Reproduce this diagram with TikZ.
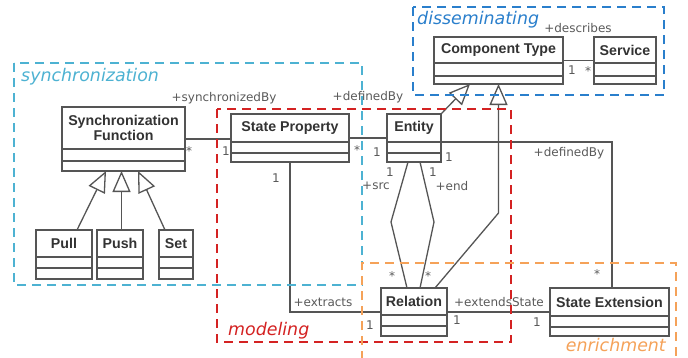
\documentclass[tikz,border=0pt]{standalone}
\usepackage{fontspec}
\setmainfont{Liberation Sans}
\newfontfamily\lblfont{DejaVu Sans}
\usetikzlibrary{arrows.meta}
\definecolor{linec}{HTML}{555555}
\definecolor{textc}{HTML}{333333}
\definecolor{lblc}{HTML}{5A5A5A}
\definecolor{syncc}{HTML}{4DB2D2}
\definecolor{modc}{HTML}{D42222}
\definecolor{disc}{HTML}{2A7FCC}
\definecolor{enrc}{HTML}{F5A259}
\newcommand\umlclass[8]{%
  \node[clsbox, minimum width={(#4-#2)*1pt}, minimum height={(#5-#3)*1pt}] (#1) at (#2,#3) {};
  \draw[clsline] (#2,#6) -- (#4,#6) (#2,#7) -- (#4,#7);
  \node[clstitle] (#1-t) at ({(#2+#4)/2},{(#3+#6)/2}) {#8};
}
\begin{document}
\begin{tikzpicture}[x=1pt,y=-1pt,
  clsbox/.style={draw=linec, line width=1.3pt, fill=white, inner sep=0pt, outer sep=0pt, anchor=north west, rectangle},
  clsline/.style={draw=linec, line width=1.3pt},
  clstitle/.style={font=\bfseries\fontsize{14.2}{15}\selectfont, text=textc, align=center, inner sep=0pt},
  assoc/.style={draw=linec, line width=1.3pt},
  gen/.style={draw=linec, line width=1.3pt, -{Triangle[open, length=21pt, width=18pt, fill=white]}},
  lbl/.style={font=\lblfont\fontsize{12}{14}\selectfont, text=lblc, inner sep=0pt},
  pkg/.style={line width=2pt, dash pattern=on 9pt off 6pt},
  pkglbl/.style={font=\lblfont\itshape\fontsize{17.4}{20}\selectfont, inner sep=0pt}]
\useasboundingbox (0,0) rectangle (688,357);
\fill[white] (0,0) rectangle (688,357);

% classes
\umlclass{sf}{62}{107}{185}{171}{149}{161}{Synchronization\\Function}
\umlclass{sp}{231}{114}{349}{162}{142}{153}{State Property}
\umlclass{en}{387}{114}{441}{162}{142}{153}{Entity}
\umlclass{ct}{434}{37}{563}{84}{63}{76}{Component Type}
\umlclass{sv}{594}{37}{656}{84}{63}{76}{Service}
\umlclass{pull}{36}{230}{92}{279}{257}{268}{Pull}
\umlclass{push}{97}{230}{143}{279}{257}{268}{Push}
\umlclass{set}{159}{230}{193}{279}{257}{268}{Set}
\umlclass{rel}{381}{288}{447}{336}{315}{326}{Relation}
\umlclass{se}{550}{288}{669}{336}{316}{327}{State Extension}

% associations
\draw[assoc] (sf.east) -- (sf.east -| sp.west);
\draw[assoc] (sp.east) -- (en.west);
\draw[assoc] ([yshift=-4pt]en.east) -| ([xshift=2.5pt]se.north);
\draw[assoc] (sp.south) |- (rel.west);
\draw[assoc] (rel.east) -- (se.west);
\draw[assoc] (ct.east) -- (sv.west);
\coordinate (dL) at (391,222);
\coordinate (dR) at (434,222);
\draw[assoc] ([xshift=-6pt]en.south) -- (dL) -- ([xshift=-7pt]rel.north);
\draw[assoc] ([xshift=6pt]en.south) -- (dR) -- ([xshift=6pt]rel.north);

% generalizations
\draw[gen] ([xshift=13pt]pull.north) -- ([xshift=-17.5pt]sf.south);
\draw[gen] ([xshift=1.5pt]push.north) -- ([xshift=-2pt]sf.south);
\draw[gen] ([xshift=-11pt]set.north) -- ([xshift=14.5pt]sf.south);
\draw[gen] (en.north east) -- ([xshift=-28.5pt]ct.south);
\coordinate (bR) at (498.5,213);
\draw[gen] ([xshift=-12pt]rel.north east) -- (bR) -- (ct.south);

% labels
\node[lbl] (l1) at (224,98) {+synchronizedBy};
\node[lbl, anchor=base] (l2) at (189,155) {*};
\node[lbl] (l3) at (226,151) {1};
\node[lbl] (l4) at (368,97) {+definedBy};
\node[lbl, anchor=base] (l5) at (357,154) {*};
\node[lbl] (l6) at (377,152) {1};
\node[lbl] (l7) at (449,157) {1};
\node[lbl] (l8) at (390,172) {1};
\node[lbl] (l9) at (376,186) {+src};
\node[lbl] (l10) at (433,172) {1};
\node[lbl] (l11) at (452,186) {+end};
\node[lbl] (l12) at (569,153) {+definedBy};
\node[lbl, anchor=base] (l13) at (597,278) {*};
\node[lbl, anchor=base] (l14) at (392,280) {*};
\node[lbl, anchor=base] (l15) at (428,280) {*};
\node[lbl] (l16) at (276,178) {1};
\node[lbl] (l17) at (323,302) {+extracts};
\node[lbl] (l18) at (370,325) {1};
\node[lbl] (l19) at (499,302) {+extendsState};
\node[lbl] (l20) at (457,320) {1};
\node[lbl] (l21) at (537,322) {1};
\node[lbl] (l22) at (578,28) {+describes};
\node[lbl] (l23) at (572,70) {1};
\node[lbl, anchor=base] (l24) at (588,75) {*};

% packages
\draw[pkg, draw=syncc] (14,63) rectangle (362,285);
\draw[pkg, draw=modc] (217,109) rectangle (511,342);
\draw[pkg, draw=disc] (413,7) rectangle (664,95);
\draw[pkg, draw=enrc] (362,360) -- (362,263) -- (676,263) -- (676,360);
\node[pkglbl, text=syncc, anchor=base west] (p1) at (21,81) {synchronization};
\node[pkglbl, text=disc, anchor=base west] (p2) at (417,24) {disseminating};
\node[pkglbl, text=modc, anchor=base west] (p3) at (228,335) {modeling};
\node[pkglbl, text=enrc, anchor=base east] (p4) at (666,351) {enrichment};
\end{tikzpicture}
\end{document}
